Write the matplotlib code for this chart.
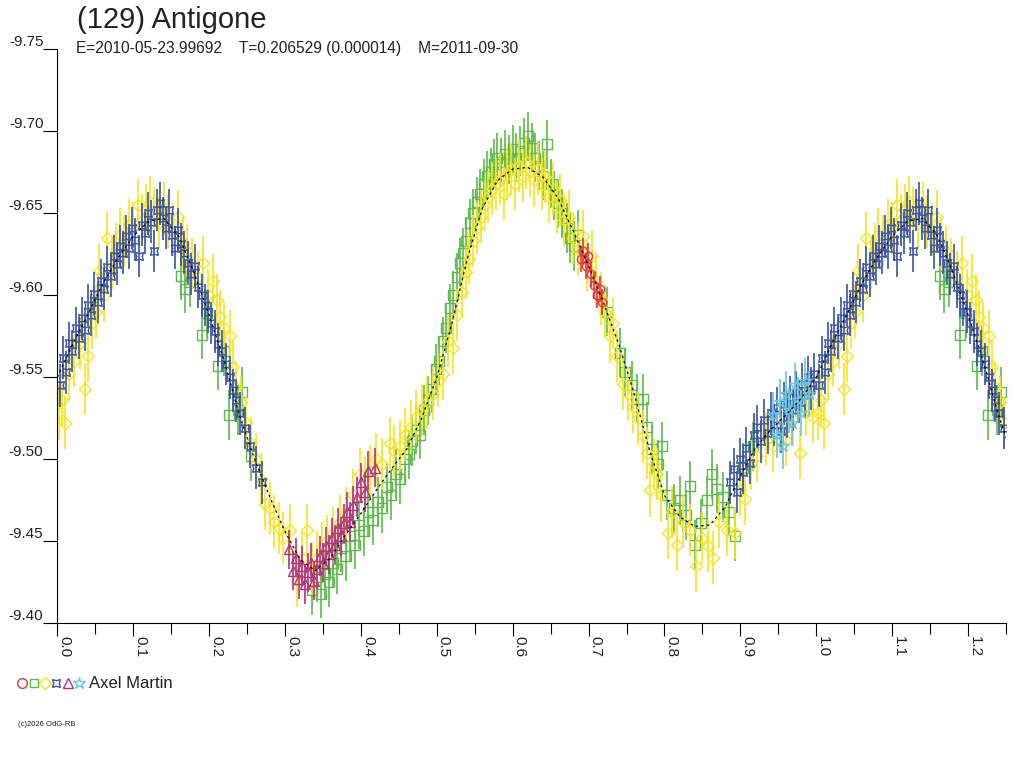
import numpy as np
import matplotlib.pyplot as plt
from matplotlib.lines import Line2D

plt.rcParams['font.family'] = ['Liberation Sans', 'DejaVu Sans']
plt.rcParams['axes.unicode_minus'] = False

# ---- data (phase, reduced magnitude) ----
red_phase = [0.690, 0.693, 0.696, 0.699, 0.703, 0.707, 0.711, 0.715, 0.718]
red_mag = [-9.622, -9.627, -9.618, -9.624, -9.613, -9.606, -9.600, -9.604, -9.596]

green_phase = [0.163, 0.168, 0.175, 0.190, 0.197, 0.212, 0.219, 0.226, 0.238, 0.244, 0.255,
               0.335, 0.342, 0.348, 0.353, 0.358, 0.363, 0.368, 0.374, 0.380, 0.386, 0.392,
               0.398, 0.404, 0.410, 0.416, 0.422, 0.428, 0.434, 0.440, 0.446,
               0.452, 0.458, 0.463, 0.468, 0.473, 0.478, 0.483, 0.489, 0.494, 0.499,
               0.503, 0.508, 0.512, 0.517, 0.521, 0.526, 0.530, 0.535, 0.539, 0.544, 0.548,
               0.553, 0.557, 0.562, 0.566, 0.571, 0.575, 0.580, 0.585, 0.590, 0.595, 0.600,
               0.605, 0.610, 0.615, 0.620, 0.625, 0.630, 0.635, 0.640, 0.645, 0.650, 0.655,
               0.660, 0.665, 0.671, 0.676,
               0.681, 0.686, 0.724, 0.742, 0.748, 0.757, 0.764, 0.772, 0.777, 0.784, 0.791,
               0.797, 0.803, 0.812, 0.820, 0.828, 0.834, 0.840, 0.848, 0.856, 0.862, 0.869,
               0.877, 0.885, 0.893, 0.903, 0.917]
green_mag = [-9.612, -9.604, -9.608, -9.576, -9.589, -9.557, -9.566, -9.527, -9.530, -9.541, -9.502,
             -9.420, -9.428, -9.418, -9.430, -9.425, -9.437, -9.433, -9.446, -9.441, -9.453, -9.448,
             -9.460, -9.456, -9.468, -9.463, -9.474, -9.470, -9.483, -9.478, -9.491,
             -9.488, -9.500, -9.503, -9.511, -9.518, -9.515, -9.530, -9.536, -9.543, -9.555,
             -9.560, -9.572, -9.580, -9.592, -9.600, -9.611, -9.620, -9.626, -9.633, -9.644, -9.650,
             -9.657, -9.662, -9.668, -9.673, -9.675, -9.680, -9.684, -9.681, -9.686, -9.683, -9.689,
             -9.684, -9.688, -9.693, -9.697, -9.690, -9.684, -9.679, -9.673, -9.692, -9.668, -9.661,
             -9.656, -9.650, -9.641, -9.635,
             -9.630, -9.637, -9.590, -9.565, -9.553, -9.545, -9.537, -9.537, -9.520, -9.506, -9.497,
             -9.508, -9.478, -9.470, -9.475, -9.466, -9.484, -9.448, -9.461, -9.475, -9.491, -9.482,
             -9.477, -9.468, -9.453, -9.495, -9.508]

yellow_phase = [0.002, 0.006, 0.010, 0.016, 0.022, 0.030, 0.036, 0.040, 0.046, 0.051, 0.055,
                0.061, 0.066, 0.072, 0.077, 0.082, 0.088, 0.094, 0.100, 0.106, 0.112, 0.117,
                0.122, 0.128, 0.134, 0.140, 0.146, 0.152, 0.159, 0.165, 0.171, 0.178, 0.185,
                0.192, 0.198, 0.205, 0.210, 0.214, 0.220, 0.227, 0.232, 0.236, 0.242, 0.248,
                0.255, 0.262, 0.268, 0.274, 0.280, 0.286, 0.292, 0.298, 0.307, 0.316, 0.322,
                0.329, 0.336, 0.342, 0.349, 0.355, 0.363, 0.372, 0.381, 0.390, 0.399, 0.406,
                0.412, 0.420, 0.428, 0.438, 0.444, 0.451, 0.458, 0.466, 0.473, 0.480, 0.487,
                0.495, 0.501, 0.508, 0.515, 0.522, 0.527, 0.533, 0.538, 0.543, 0.548, 0.553,
                0.558, 0.563, 0.568, 0.573, 0.578, 0.583, 0.588, 0.593, 0.598, 0.603, 0.608,
                0.613, 0.618, 0.623, 0.628, 0.633, 0.638, 0.643, 0.648, 0.653, 0.658, 0.663,
                0.668, 0.674, 0.680, 0.686, 0.692, 0.698, 0.704, 0.710, 0.716, 0.722, 0.728,
                0.732, 0.737, 0.745, 0.752, 0.759, 0.765, 0.772, 0.777, 0.781, 0.786, 0.790,
                0.796, 0.804, 0.810, 0.817, 0.824, 0.833, 0.842, 0.850, 0.858, 0.864, 0.872,
                0.882, 0.893, 0.900, 0.906, 0.914, 0.922, 0.934, 0.943, 0.952, 0.960, 0.969,
                0.978, 0.986, 0.996]
yellow_mag = [-9.528, -9.536, -9.522, -9.552, -9.560, -9.571, -9.543, -9.563, -9.583, -9.590, -9.615,
              -9.600, -9.635, -9.620, -9.628, -9.637, -9.633, -9.643, -9.641, -9.655, -9.646, -9.652,
              -9.657, -9.650, -9.644, -9.653, -9.645, -9.640, -9.648, -9.632, -9.627, -9.619, -9.611,
              -9.620, -9.600, -9.609, -9.597, -9.587, -9.580, -9.575, -9.556, -9.544, -9.535, -9.522,
              -9.510, -9.500, -9.488, -9.473, -9.470, -9.462, -9.458, -9.452, -9.457, -9.426, -9.440,
              -9.457, -9.433, -9.440, -9.446, -9.450, -9.455, -9.462, -9.467, -9.478, -9.491, -9.486,
              -9.493, -9.500, -9.497, -9.510, -9.505, -9.508, -9.515, -9.520, -9.526, -9.530, -9.535,
              -9.540, -9.548, -9.552, -9.572, -9.568, -9.588, -9.602, -9.614, -9.622, -9.633, -9.641,
              -9.648, -9.655, -9.660, -9.665, -9.668, -9.671, -9.662, -9.674, -9.677, -9.668, -9.679,
              -9.673, -9.681, -9.676, -9.670, -9.677, -9.668, -9.672, -9.660, -9.665, -9.654, -9.658,
              -9.646, -9.648, -9.635, -9.628, -9.636, -9.618, -9.624, -9.608, -9.598, -9.590, -9.575,
              -9.583, -9.563, -9.546, -9.540, -9.532, -9.525, -9.514, -9.504, -9.481, -9.497, -9.491,
              -9.478, -9.455, -9.468, -9.448, -9.462, -9.457, -9.435, -9.452, -9.447, -9.440, -9.462,
              -9.457, -9.455, -9.481, -9.476, -9.497, -9.502, -9.512, -9.508, -9.520, -9.512, -9.524,
              -9.504, -9.530, -9.526]

blue_phase = [0.003, 0.007, 0.011, 0.015, 0.019, 0.024, 0.028, 0.032, 0.036, 0.041, 0.045,
              0.049, 0.053, 0.058, 0.062, 0.066, 0.071, 0.075, 0.079, 0.083, 0.087, 0.091,
              0.095, 0.099, 0.103, 0.107, 0.111, 0.115, 0.119, 0.123, 0.127, 0.131, 0.135,
              0.139, 0.143, 0.147, 0.151, 0.155, 0.159, 0.163, 0.167, 0.172, 0.176, 0.181,
              0.185, 0.190, 0.194, 0.199, 0.203, 0.208, 0.212, 0.217, 0.222, 0.227, 0.231,
              0.236, 0.241, 0.247, 0.254, 0.262, 0.270,
              0.887, 0.891, 0.895, 0.899, 0.903, 0.908, 0.913, 0.918, 0.922, 0.927, 0.931,
              0.936, 0.940, 0.944, 0.948, 0.953, 0.957, 0.961, 0.965, 0.969, 0.973, 0.977,
              0.981, 0.985, 0.989, 0.993, 0.997]
blue_mag = [-9.545, -9.562, -9.553, -9.571, -9.566, -9.580, -9.574, -9.586, -9.579, -9.594, -9.588,
            -9.601, -9.596, -9.609, -9.604, -9.617, -9.612, -9.624, -9.619, -9.630, -9.626, -9.636,
            -9.629, -9.641, -9.634, -9.624, -9.643, -9.638, -9.650, -9.645, -9.627, -9.652, -9.656,
            -9.647, -9.641, -9.652, -9.637, -9.629, -9.640, -9.631, -9.626, -9.620, -9.613, -9.618,
            -9.605, -9.600, -9.594, -9.590, -9.583, -9.578, -9.570, -9.566, -9.558, -9.550, -9.542,
            -9.536, -9.528, -9.519, -9.508, -9.495, -9.486,
            -9.486, -9.494, -9.480, -9.500, -9.492, -9.507, -9.498, -9.515, -9.520, -9.511, -9.524,
            -9.516, -9.528, -9.521, -9.531, -9.517, -9.534, -9.526, -9.538, -9.530, -9.541, -9.535,
            -9.546, -9.539, -9.550, -9.543, -9.552]

magenta_phase = [0.305, 0.310, 0.314, 0.318, 0.322, 0.326, 0.330, 0.334, 0.338, 0.342, 0.346,
                 0.350, 0.354, 0.358, 0.362, 0.366, 0.370, 0.374, 0.378, 0.382, 0.386, 0.390,
                 0.395, 0.400, 0.405, 0.410, 0.418]
magenta_mag = [-9.445, -9.432, -9.440, -9.427, -9.435, -9.424, -9.431, -9.437, -9.426, -9.433, -9.441,
               -9.437, -9.447, -9.442, -9.452, -9.448, -9.458, -9.453, -9.461, -9.468, -9.462, -9.472,
               -9.477, -9.486, -9.480, -9.493, -9.495]

cyan_phase = [0.943, 0.948, 0.952, 0.956, 0.960, 0.964, 0.968, 0.972, 0.976, 0.980, 0.985, 0.990]
cyan_mag = [-9.527, -9.515, -9.535, -9.508, -9.540, -9.530, -9.522, -9.545, -9.536, -9.528, -9.548, -9.540]

model_phase = [0.00, 0.02, 0.04, 0.06, 0.08, 0.10, 0.12, 0.14, 0.16, 0.18, 0.20, 0.22, 0.24,
               0.26, 0.28, 0.30, 0.32, 0.34, 0.36, 0.38, 0.40, 0.42, 0.44, 0.46, 0.48, 0.50,
               0.52, 0.54, 0.56, 0.58, 0.60, 0.62, 0.64, 0.66, 0.68, 0.70, 0.72, 0.74, 0.76,
               0.78, 0.80, 0.82, 0.84, 0.86, 0.88, 0.90, 0.92, 0.94, 0.96, 0.98]
model_mag = [-9.550, -9.570, -9.588, -9.607, -9.623, -9.636, -9.645, -9.647, -9.636, -9.614, -9.588,
             -9.560, -9.527, -9.500, -9.477, -9.456, -9.439, -9.432, -9.440, -9.454, -9.467, -9.481,
             -9.494, -9.506, -9.525, -9.550, -9.583, -9.622, -9.653, -9.670, -9.677, -9.678, -9.672,
             -9.659, -9.639, -9.618, -9.595, -9.570, -9.540, -9.506, -9.478, -9.465, -9.459, -9.460,
             -9.471, -9.490, -9.507, -9.518, -9.527, -9.537]

series = [
    # phase, mag, colour, marker, typical error
    (green_phase, green_mag, '#5cb94c', 's', 0.015),
    (yellow_phase, yellow_mag, '#f7e41c', 'D', 0.016),
    (red_phase, red_mag, '#e8333b', 'o', 0.008),
    (blue_phase, blue_mag, '#3a52a6', (4, 1, 45), 0.013),
    (magenta_phase, magenta_mag, '#b3307f', '^', 0.012),
    (cyan_phase, cyan_mag, '#6cc6dc', '*', 0.014),
]
msizes = {'s': 6.5, 'D': 6, 'o': 6, '^': 7.5, '*': 9}


def wrap(ph, mg, cut=0.25):
    # the first quarter of the period is shown again after phase 1
    ph = np.asarray(ph)
    mg = np.asarray(mg)
    m = ph <= cut
    return np.concatenate([ph, ph[m] + 1]), np.concatenate([mg, mg[m]])


fig = plt.figure(figsize=(10.24, 7.68), dpi=100)
ax = fig.add_axes([57.3 / 1024, 1 - 623.3 / 768, (1006 - 57.3) / 1024, (623.3 - 49.3) / 768])

for ph, mg, col, mk, err in series:
    x, y = wrap(ph, mg)
    ms = msizes.get(mk, 8) if isinstance(mk, str) else 8
    ax.errorbar(x, y, yerr=err, fmt='none', ecolor=col, elinewidth=1.2, capsize=0, zorder=2)
    ax.plot(x, y, ls='none', marker=mk, ms=ms, mfc='none', mec=col, mew=1.0, zorder=2)

mx, my = wrap(model_phase, model_mag, cut=0.27)
order = np.argsort(mx)
ax.plot(mx[order], my[order], color='black', lw=0.9, ls=(0, (2, 2.5)), zorder=5)

ax.set_xlim(0, 1.25)
ax.set_ylim(-9.40, -9.75)

for s in ['top', 'right']:
    ax.spines[s].set_visible(False)
ax.spines['left'].set_linewidth(0.8)
ax.spines['bottom'].set_linewidth(0.8)

xt = [0.0, 0.1, 0.2, 0.3, 0.4, 0.5, 0.6, 0.7, 0.8, 0.9, 1.0, 1.1, 1.2]
ax.set_xticks(xt)
ax.set_xticklabels(['%.1f' % v for v in xt], rotation=270, ha='left', va='top',
                   fontsize=11, color='#222222')
ax.set_xticks([0.05, 0.15, 0.25, 0.35, 0.45, 0.55, 0.65, 0.75, 0.85, 0.95, 1.05, 1.15, 1.25],
              minor=True)
ax.tick_params(axis='x', which='major', direction='out', length=9, width=0.8, pad=0)
ax.tick_params(axis='x', which='minor', direction='out', length=8, width=0.8)

yt = [-9.75, -9.70, -9.65, -9.60, -9.55, -9.50, -9.45, -9.40]
ax.set_yticks(yt)
ax.set_yticklabels(['%.2f' % v for v in yt], va='bottom', fontsize=11, color='#222222')
ax.tick_params(axis='y', direction='out', length=10, width=0.8, pad=0)

fig.text(77 / 1024, 1 - 28.5 / 768, '(129) Antigone', fontsize=21, va='baseline', ha='left',
         color='#222222')
fig.text(76 / 1024, 1 - 53 / 768,
         'E=2010-05-23.99692    T=0.206529 (0.000014)    M=2011-09-30',
         fontsize=11.2, va='baseline', ha='left', color='#222222')

# observer key
leg_x = [22, 33.5, 45, 56, 67.5, 79]
leg_mk = ['o', 's', 'D', (4, 1, 45), '^', '*']
leg_col = ['#e8333b', '#5cb94c', '#f7e41c', '#3a52a6', '#b3307f', '#6cc6dc']
leg_ms = [7, 6, 6.5, 8, 7, 9]
for lx, mk, col, ms in zip(leg_x, leg_mk, leg_col, leg_ms):
    fig.add_artist(Line2D([lx / 1024], [1 - 683 / 768], transform=fig.transFigure,
                          marker=mk, ms=ms, mfc='none', mec=col, mew=1.0, ls='none'))
fig.text(89 / 1024, 1 - 683 / 768, 'Axel Martin', fontsize=12, va='center', ha='left',
         color='#222222')
fig.text(18 / 1024, 1 - 725 / 768, '(c)2026 OdG-RB', fontsize=5.5, va='center', ha='left',
         color='#222222')

fig.savefig('out.png', dpi=100)
